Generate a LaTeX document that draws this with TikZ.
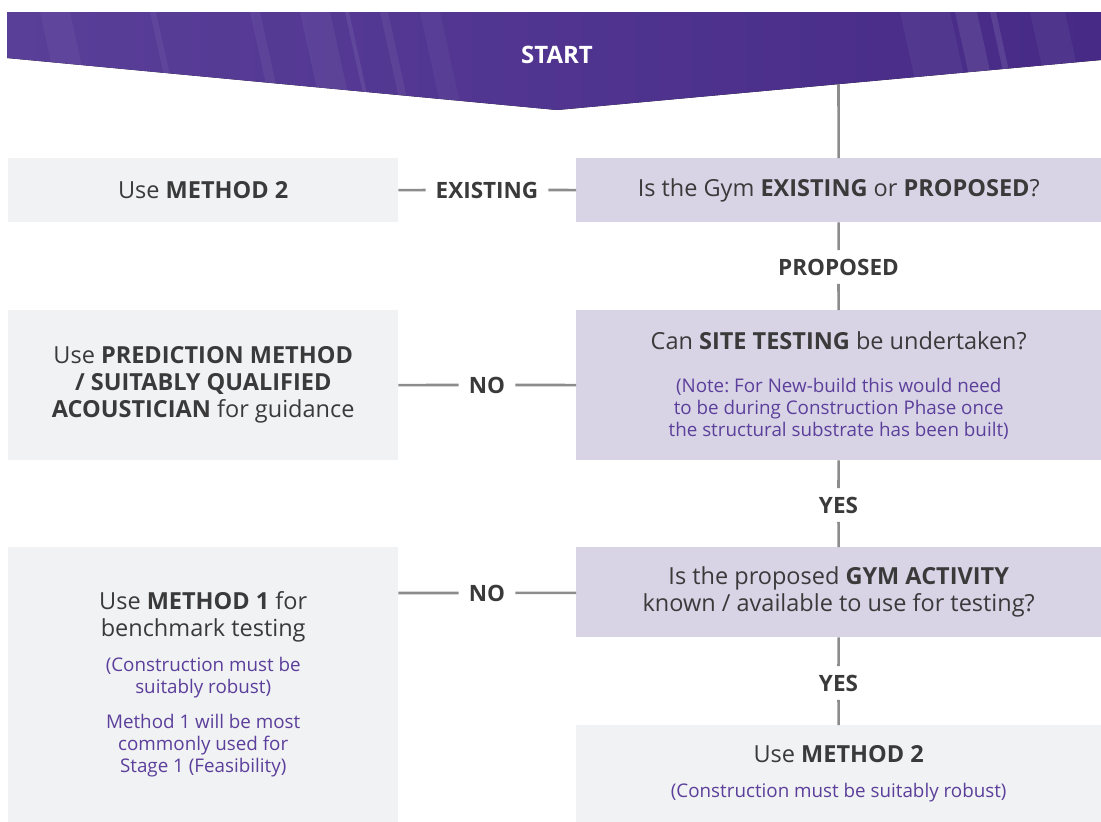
\documentclass[tikz,border=0pt]{standalone}
\usepackage{fontspec}
\setmainfont{Open Sans}
\usetikzlibrary{positioning}

\definecolor{gymgrey}{HTML}{F1F2F4}
\definecolor{gymlilac}{HTML}{D8D4E6}
\definecolor{gymink}{HTML}{3A3A3A}
\definecolor{gymnote}{HTML}{5B3F9B}
\definecolor{gymline}{HTML}{8C8C8C}
\definecolor{bannerdark}{HTML}{462A86}
\definecolor{bannerlight}{HTML}{5A3F99}

\newcommand{\gymnote}[2][13pt]{\par\vspace{#1}{\color{gymnote}\fontsize{18.8}{22}\selectfont #2\par}}

\tikzset{
  gymbox/.style={anchor=north west, align=flush center, inner xsep=8pt, inner ysep=0pt,
    text=gymink, font=\frenchspacing\fontsize{23.5}{27}\selectfont},
  answer/.style={gymbox, fill=gymgrey},
  question/.style={gymbox, fill=gymlilac},
  choice/.style={text=gymink, font=\bfseries\fontsize{22.5}{24}\selectfont, inner xsep=10pt, inner ysep=8.5pt},
  link/.style={draw=gymline, line width=2.6pt}
}

\begin{document}
\begin{tikzpicture}[x=1pt,y=-1pt]
	\useasboundingbox (0,0) rectangle (1101,822);
	\fill[left color=bannerlight, right color=bannerdark] (7,12) -- (1101,12) -- (1101,60) -- (557,110) -- (7,58) -- cycle;
	\begin{scope}
		\clip (7,12) -- (1101,12) -- (1101,60) -- (557,110) -- (7,58) -- cycle;
		\foreach \sx/\sw/\so in {40/30/0.04, 150/6/0.05, 250/10/0.05, 300/30/0.05, 345/4/0.08, 380/8/0.06, 420/20/0.04, 900/50/0.05, 955/22/0.09, 990/6/0.10, 1030/35/0.05}
			\fill[white, opacity=\so] (\sx,12) -- ++(\sw,0) -- ++(22,100) -- ++(-\sw,0) -- cycle;
	\end{scope}
	\node[text=white, font=\bfseries\fontsize{24}{26}\selectfont] (start) at (557,55) {START};
	\coordinate (bannerfoot) at (838.5,84);

	\node[answer, minimum width=390pt, minimum height=64pt, text width=374pt] (m2a) at (8,158) {Use \textbf{METHOD 2}};
	\node[question, minimum width=525pt, minimum height=64pt, text width=509pt] (q1) at (576,158) {Is the Gym \textbf{EXISTING} or \textbf{PROPOSED}?};
	\node[answer, minimum width=390pt, minimum height=150pt, text width=374pt] (pred) at (8,310)
		{Use \textbf{PREDICTION METHOD}\\\textbf{/ SUITABLY QUALIFIED}\\\textbf{ACOUSTICIAN} for guidance};
	\node[question, minimum width=525pt, minimum height=150pt, text width=509pt] (q2) at (576,310)
		{Can \textbf{SITE TESTING} be undertaken?\gymnote[21pt]{(Note: For New-build this would need\\to be during Construction Phase once\\the structural substrate has been built)}};
	\node[answer, minimum width=390pt, minimum height=275pt, text width=374pt] (m1) at (8,547)
		{Use \textbf{METHOD 1} for\\benchmark testing\gymnote{(Construction must be\\suitably robust)}\gymnote{Method 1 will be most\\commonly used for\\Stage 1 (Feasibility)}};
	\node[question, minimum width=525pt, minimum height=90pt, text width=509pt] (q3) at (576,547)
		{Is the proposed \textbf{GYM ACTIVITY}\\known / available to use for testing?};
	\node[answer, minimum width=525pt, minimum height=97pt, text width=509pt] (m2b) at (576,725)
		{Use \textbf{METHOD 2}\gymnote{(Construction must be suitably robust)}};

	\node[choice] (ex) at (487,190) {EXISTING};
	\node[choice] (prop) at (838.5,267) {PROPOSED};
	\node[choice] (no1) at (487,385) {NO};
	\node[choice] (yes1) at (838.5,505) {YES};
	\node[choice] (no2) at (487,593) {NO};
	\node[choice] (yes2) at (838.5,683) {YES};

	\draw[link] (bannerfoot) -- (q1);
	\draw[link] (q1) -- (ex) -- (m2a);
	\draw[link] (q1) -- (prop) -- (q2);
	\draw[link] (q2) -- (no1) -- (pred);
	\draw[link] (q2) -- (yes1) -- (q3);
	\draw[link] (q3) -- (no2) -- (no2 -| m1.east);
	\draw[link] (q3) -- (yes2) -- (m2b);
\end{tikzpicture}
\end{document}
